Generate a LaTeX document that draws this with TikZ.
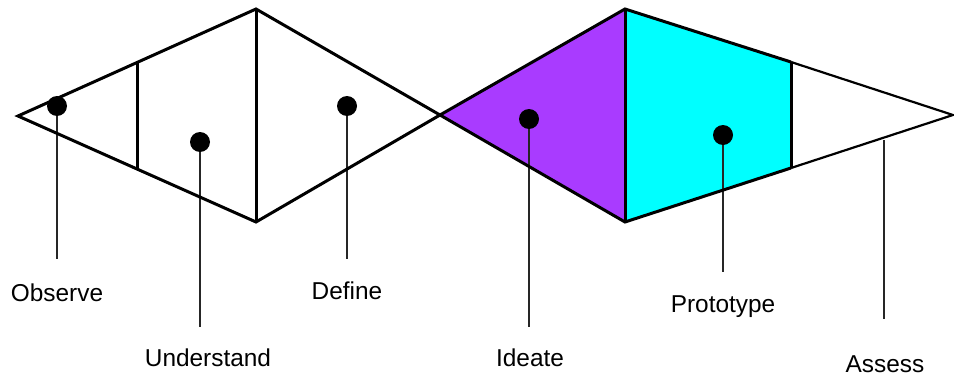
\documentclass[tikz,border=0pt]{standalone}
\usepackage{fontspec}
\setmainfont{Liberation Sans}
\usepackage{tikz}
\pgfdeclarelayer{edgelayer}
\pgfdeclarelayer{nodelayer}
\pgfsetlayers{edgelayer,nodelayer,main}
\definecolor{ideatepurple}{HTML}{A93BFF}
\definecolor{protocyan}{HTML}{00FFFF}
\tikzstyle{edge}=[draw=black, line width=1.5pt, line join=miter]
\tikzstyle{thinedge}=[draw=black, line width=1.1pt]
\tikzstyle{stem}=[draw=black!85, line width=0.6pt]
\tikzstyle{dot}=[circle, fill=black, inner sep=0pt, minimum size=10pt]
\tikzstyle{phase}=[inner sep=0pt, anchor=base, font=\fontsize{12.2}{14}\selectfont]

\begin{document}
\begin{tikzpicture}[x=0.5pt, y=-0.5pt]
			\useasboundingbox (0, 0) rectangle (954, 375);
			\begin{pgfonlayer}{nodelayer}
			\coordinate (0) at (18, 116);
			\coordinate (1) at (137, 62);
			\coordinate (2) at (137, 168);
			\coordinate (3) at (256, 9);
			\coordinate (4) at (256, 222);
			\coordinate (5) at (440, 115);
			\coordinate (6) at (625, 9);
			\coordinate (7) at (625, 222);
			\coordinate (8) at (791, 62);
			\coordinate (9) at (791, 168);
			\coordinate (10) at (953, 115);
			\node [style=dot] (11) at (57, 106) {};
			\node [style=dot] (12) at (200, 142) {};
			\node [style=dot] (13) at (347, 106) {};
			\node [style=dot] (14) at (529, 119) {};
			\node [style=dot] (15) at (723, 135) {};
			\coordinate (16) at (884, 140);
			\coordinate (17) at (57, 259);
			\coordinate (18) at (200, 327);
			\coordinate (19) at (347, 259);
			\coordinate (20) at (529, 327);
			\coordinate (21) at (723, 272);
			\coordinate (22) at (884, 319);
			\node [style=phase] (23) at (57, 301) {Observe};
			\node [style=phase] (24) at (208, 366) {Understand};
			\node [style=phase] (25) at (347, 299) {Define};
			\node [style=phase] (26) at (530, 366) {Ideate};
			\node [style=phase] (27) at (723, 312) {Prototype};
			\node [style=phase] (28) at (885, 372) {Assess};
			\end{pgfonlayer}
			\begin{pgfonlayer}{edgelayer}
			\fill [ideatepurple] (5) -- (6) -- (7) -- cycle;
			\fill [protocyan] (6) -- (8) -- (9) -- (7) -- cycle;
			\draw [style=stem] (11.center) to (17);
			\draw [style=stem] (12.center) to (18);
			\draw [style=stem] (13.center) to (19);
			\draw [style=stem] (14.center) to (20);
			\draw [style=stem] (15.center) to (21);
			\draw [style=stem] (16) to (22);
			\draw [style=edge] (0) -- (3) -- (5) -- (4) -- cycle;
			\draw [style=edge] (1) to (2);
			\draw [style=edge] (3) to (4);
			\draw [style=edge] (5) -- (6) -- (8);
			\draw [style=edge] (5) -- (7) -- (9);
			\draw [style=edge] (6) to (7);
			\draw [style=edge] (8) to (9);
			\draw [style=thinedge] (8) -- (10) -- (9);
			\end{pgfonlayer}
			\end{tikzpicture}
\end{document}
